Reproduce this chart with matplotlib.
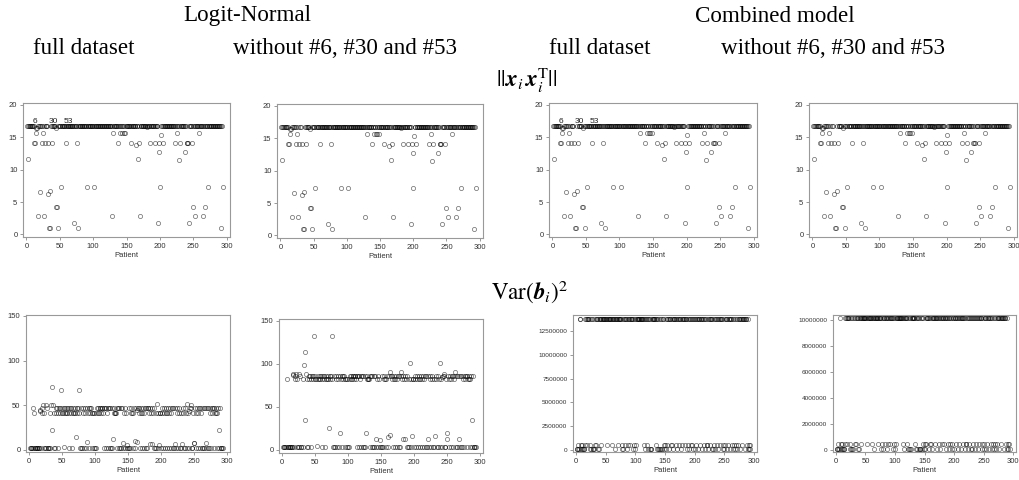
import numpy as np
import matplotlib.pyplot as plt
from matplotlib.ticker import FuncFormatter

plt.rcParams['mathtext.fontset'] = 'stix'

N = 294
patients = np.arange(1, N + 1)
removed = [6, 30, 53]          # patients left out in the "without" fits

# ||x_i x_i^T|| : most patients sit on one plateau, the rest listed here
lev_plateau = 16.8
lev_extra = {2: 11.7, 12: 14.1, 13: 14.1, 14: 15.6, 15: 16.4, 16: 16.5, 18: 2.8,
             21: 6.6, 23: 14.1, 25: 15.6, 26: 2.8, 28: 14.1, 32: 14.1, 33: 6.3,
             34: 1.0, 35: 1.0, 36: 6.7, 38: 14.1, 44: 4.3, 45: 16.5, 46: 4.3,
             48: 1.0, 52: 7.4, 59: 14.1, 72: 1.8, 76: 14.1, 78: 1.0, 91: 7.4,
             102: 7.4, 128: 2.8, 130: 15.6, 138: 14.1, 141: 15.6, 144: 15.6,
             146: 15.6, 148: 15.6, 156: 14.1, 164: 13.8, 167: 11.7, 168: 14.1,
             170: 2.8, 181: 16.6, 185: 14.1, 192: 14.1, 197: 1.8, 198: 14.1,
             199: 12.8, 200: 7.4, 201: 15.4, 204: 14.1, 223: 14.1, 226: 15.6,
             229: 11.5, 230: 14.1, 237: 12.8, 240: 14.1, 241: 14.1, 242: 14.1,
             244: 1.8, 248: 14.1, 249: 4.3, 252: 2.8, 258: 15.6, 265: 2.8,
             267: 4.3, 272: 7.4, 291: 1.0, 294: 7.4}

# Var(b_i)^2, Logit-Normal: band per patient (H/M upper bands, L near zero, X listed)
ln_codes = ("LLLLLHMLLL" "LLLLLXXLHM" "XMLLLXHLLL" "MLXXXXLMLH" "MHLMHMHXMH"
            "MXHMHMHMHM" "LHMHLMHMHM" "XHMHMXLLHL" "HMLHMLHXMH" "LHMHMLMLML"
            "LMHMHMHHMH" "HMHLHLHMHL" "HLHLHLXMHM" "MMHLHLHLHL" "HLXMLHMLXL"
            "LHLMHMLMHL" "XHXXHMHLMH" "LMHLMHLHLH" "HMXHMHXMLH" "LMLXMLXMML"
            "HMLHMLHMLM" "HLMHLMHLHL" "XHLHMLMHLM" "LXHMLHLMXL" "MLXHXHLLMX"
            "XHMLHLMHLH" "MHLLHLHXLH" "LHLMHLHMHL" "HMMHLMHXLH" "LLLL")
ln_full_levels = {'H': 47, 'M': 41, 'L': 1.5}
ln_full_extra = {16: 45, 17: 43, 21: 50, 26: 50, 33: 50, 34: 22, 35: 70, 36: 50,
                 48: 67, 52: 3, 71: 14, 76: 67, 88: 9, 127: 12, 143: 8, 149: 5,
                 161: 10, 163: 9, 164: 45, 183: 7, 187: 7, 194: 51, 197: 5, 221: 7,
                 232: 7, 239: 51, 243: 43, 245: 50, 250: 8, 251: 8, 268: 8, 288: 22}
ln_red_levels = {'H': 86, 'M': 82.5, 'L': 2.5}
ln_red_extra = {16: 88, 17: 87, 21: 88, 26: 88, 33: 99, 34: 35, 35: 114, 36: 88,
                48: 132, 52: 4, 71: 25, 76: 132, 88: 19.5, 127: 19.5, 143: 12.5,
                149: 11, 161: 15, 163: 16.5, 164: 90, 180: 90, 183: 12, 187: 12,
                194: 101, 197: 16, 221: 12, 232: 16, 239: 101, 243: 85, 245: 88,
                250: 12, 251: 19.5, 263: 90, 268: 12, 288: 35}

# Var(b_i)^2, combined model: T top band, U / B the two low bands
cm_codes = ("BBBUBTTBUB" "UBBBUTTUTT" "TTUBBTTBBB" "TUTUTTBTBT" "TTUTTTTTTT"
            "TUTTTTTTTT" "UTTTBTTTTT" "UTTTTTBUTB" "TTUTTBTUTT" "UTTTTBTUTB"
            "UTTTTTTTTT" "TTTUTBTTTU" "TBTBTBBTTT" "TTTUTBTBTB" "TBBTBTTUBU"
            "BTUTTTBTTU" "UTBTTTTUTT" "BTTUTTBTUT" "TTUTTTBTUT" "BTUTTUBTTB"
            "TTUTTBTTUT" "TBTTUTTBTU" "UTBTTUTTBT" "BUTTBTUTTB" "TUTTTTBUTB"
            "UTTBTUTTBT" "TTUBTUTBUT" "BTUTTBTTTU" "TTTTBTTUBT" "UBUB")
cm_full_levels = {'T': 13750000, 'U': 450000, 'B': 60000}
cm_red_levels = {'T': 10150000, 'U': 420000, 'B': 40000}

assert len(ln_codes) == N and len(cm_codes) == N


def values(codes, levels, extra):
    return np.array([extra.get(p, levels.get(c, np.nan)) for p, c in zip(patients, codes)])


lev = np.array([lev_extra.get(p, lev_plateau) for p in patients])
ln_full = values(ln_codes, ln_full_levels, ln_full_extra)
ln_red = values(ln_codes, ln_red_levels, ln_red_extra)
cm_full = values(cm_codes, cm_full_levels, {})
cm_red = values(cm_codes, cm_red_levels, {})

keep = ~np.isin(patients, removed)

W, H = 1019, 480
fig = plt.figure(figsize=(W / 100, H / 100), dpi=100)


def px_axes(x0, x1, y0, y1):
    return fig.add_axes([x0 / W, 1 - y1 / H, (x1 - x0) / W, (y1 - y0) / H])


def panel(rect, y, mask, ylim, yticks, ysize=5.5, labels=False):
    ax = px_axes(*rect)
    ax.plot(patients[mask], y[mask], 'o', ms=3.0, mfc='none', mec='black',
            mew=0.55, alpha=0.55)
    ax.set_xlim(-5, 305)
    ax.set_ylim(*ylim)
    ax.set_xticks([0, 50, 100, 150, 200, 250, 300])
    ax.set_yticks(yticks)
    ax.yaxis.set_major_formatter(FuncFormatter(lambda v, p: f'{v:.0f}'))
    for s in ax.spines.values():
        s.set_color('#999999')
        s.set_linewidth(0.8)
    ax.tick_params(direction='out', length=2.5, width=0.6, color='#888888',
                   labelcolor='#333333', pad=1.5, labelfontfamily='Liberation Sans')
    ax.tick_params(axis='x', labelsize=5.5)
    ax.tick_params(axis='y', labelsize=ysize)
    ax.set_xlabel('Patient', fontsize=5.5, family='Liberation Sans',
                  color='#333333', labelpad=2)
    if labels:
        for p in removed:
            ax.text(p + 3, y[p - 1] + 0.1, str(p), fontsize=6,
                    family='Liberation Sans', ha='left', va='bottom', color='#222222')
    return ax


top_lim = (-0.4, 20.3)
top_ticks = [0, 5, 10, 15, 20]
everyone = np.ones(N, dtype=bool)

panel((23, 230, 103, 237), lev, everyone, top_lim, top_ticks, labels=True)
panel((277, 483, 104, 238), lev, keep, top_lim, top_ticks)
panel((549, 757, 103, 237), lev, everyone, top_lim, top_ticks, labels=True)
panel((809, 1017, 103, 237), lev, keep, top_lim, top_ticks)

panel((26, 230, 315, 452), ln_full, everyone, (-2.5, 151), [0, 50, 100, 150])
panel((279, 483, 319, 453), ln_red, keep, (-4, 152), [0, 50, 100, 150])
panel((573, 757, 315, 452), cm_full, everyone, (-250000, 14200000),
      [0, 2500000, 5000000, 7500000, 10000000, 12500000], ysize=4.6)
panel((833, 1016, 315, 452), cm_red, keep, (-180000, 10390000),
      [0, 2000000, 4000000, 6000000, 8000000, 10000000], ysize=4.6)

serif = dict(family='Liberation Serif', fontsize=16.6, ha='center', va='center')


def head(x, y, s, **kw):
    fig.text(x / W, 1 - y / H, s, **serif, **kw)


head(247, 16, 'Logit-Normal')
head(775, 16, 'Combined model')
head(84, 49, 'full dataset')
head(345, 49, 'without #6, #30 and #53')
head(600, 49, 'full dataset')
head(833, 49, 'without #6, #30 and #53')
head(527, 80, r'$||\mathbfit{x}_i\,\mathbfit{x}_i^{\mathrm{T}}||$')
head(530, 292, r'$\mathrm{Var}(\mathbfit{b}_i)^2$')

fig.savefig('out.png', dpi=100)
